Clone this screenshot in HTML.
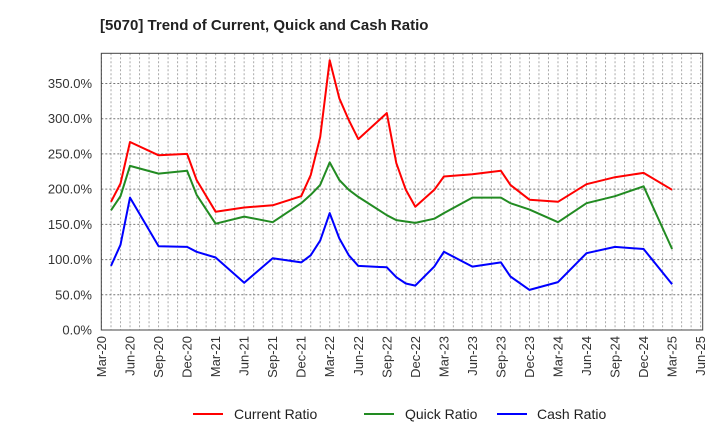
<!DOCTYPE html>
<html><head><meta charset="utf-8"><style>
body{margin:0;background:#fff;font-family:"Liberation Sans",sans-serif;}
svg text{font-family:"Liberation Sans",sans-serif;}
</style></head><body>
<svg id="chart" width="720" height="440" viewBox="0 0 720 440" xmlns="http://www.w3.org/2000/svg">
<text x="100" y="30" font-size="15" font-weight="bold" fill="#222">[5070]  Trend of Current, Quick and Cash Ratio</text>
<g id="grid"></g>
<g id="yaxis"></g>
<g id="xaxis"></g>
<g id="series"></g>
<rect x="101.3" y="53.3" width="601.4" height="276.7" fill="none" stroke="#444" stroke-width="1"/>
<g>
<line x1="193" y1="414" x2="223" y2="414" stroke="#ff0000" stroke-width="2"/>
<text x="234" y="419" font-size="14" fill="#222">Current Ratio</text>
<line x1="364" y1="414" x2="394" y2="414" stroke="#228b22" stroke-width="2"/>
<text x="405" y="419" font-size="14" fill="#222">Quick Ratio</text>
<line x1="497" y1="414" x2="527" y2="414" stroke="#0000ff" stroke-width="2"/>
<text x="537" y="419" font-size="14" fill="#222">Cash Ratio</text>
</g>
</svg>
<script>
const months = [1,2,3,6,9,10,12,15,18,21,22,23,24,25,26,27,30,31,32,33,35,36,39,42,43,45,48,51,54,57,60];
const currentRatio = [182,208,267,248,250,213,168,174,177,190,220,274,383,329,298,271,308,237,199,175,199,218,221,226,206,185,182,207,217,223,199];
const quickRatio = [170,190,233,222,226,192,151,161,153,180,192,206,238,213,199,189,163,156,154,152,158,166,188,188,180,171,153,180,190,204,115];
const cashRatio = [91,121,188,119,118,111,103,67,102,96,106,127,166,130,106,91,89,75,66,63,90,111,90,96,76,57,68,109,118,115,65];
const yTicks = [0,50,100,150,200,250,300,350];
const xTickLabels = ["Mar-20","Jun-20","Sep-20","Dec-20","Mar-21","Jun-21","Sep-21","Dec-21","Mar-22","Jun-22","Sep-22","Dec-22","Mar-23","Jun-23","Sep-23","Dec-23","Mar-24","Jun-24","Sep-24","Dec-24","Mar-25","Jun-25"];

const NS="http://www.w3.org/2000/svg";
const L=101.3,R=702.7,T=53.3,B=330;
const xS=m=>101.5+m*9.51;
const yS=v=>B-v*0.7043;
function mk(tag,attrs,parent){const e=document.createElementNS(NS,tag);for(const k in attrs)e.setAttribute(k,attrs[k]);parent.appendChild(e);return e;}
const grid=document.getElementById('grid'),ya=document.getElementById('yaxis'),xa=document.getElementById('xaxis'),ser=document.getElementById('series');
for(let m=0;m<=63;m++){const x=xS(m);if(x<=L||x>=R)continue;
 const g=mk('line',{x1:x,y1:T,x2:x,y2:B,stroke:'#aaa','stroke-width':1,'stroke-dasharray':'2,2'},grid);
 
 }
yTicks.forEach(v=>{const y=yS(v);
 if(v>0){const g=mk('line',{x1:L,y1:y,x2:R,y2:y,stroke:'#777','stroke-width':1,'stroke-dasharray':'2,2'},grid);
 
 }
 const t=mk('text',{x:92,y:y+4.5,'font-size':13,'text-anchor':'end',fill:'#333'},ya);t.textContent=v.toFixed(1)+'%';
 
 });
xTickLabels.forEach((lab,i)=>{const x=xS(i*3);
 const t=mk('text',{x:0,y:0,'font-size':13,'text-anchor':'end',fill:'#333',transform:`translate(${x+4.5},336) rotate(-90)`},xa);t.textContent=lab;
 
 });
[[currentRatio,'#ff0000','current-ratio-line'],[quickRatio,'#228b22','quick-ratio-line'],[cashRatio,'#0000ff','cash-ratio-line']].forEach(([vals,c,n])=>{
 const p=mk('polyline',{points:vals.map((v,i)=>xS(months[i]).toFixed(1)+','+yS(v).toFixed(1)).join(' '),fill:'none',stroke:c,'stroke-width':2,'stroke-linejoin':'round'},ser);
 
 });
</script>
</body></html>
